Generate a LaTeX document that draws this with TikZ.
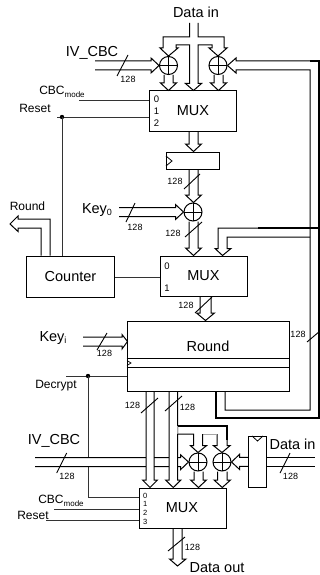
\documentclass[tikz,border=0pt]{standalone}
\usepackage{fontspec}
\setmainfont{Liberation Sans}
\usetikzlibrary{calc}
\newcommand\fs[1]{\fontsize{#1}{#1}\selectfont}
\newcommand\sub[2]{\raisebox{-2.5pt}{\fs{#1}#2}}
\tikzset{
 wire/.style={draw=black,line width=1pt,line join=miter},
 heavy/.style={draw=black,line width=2.2pt,line join=miter},
 sig/.style={draw=black!80,line width=.8pt},
 blockbox/.style={draw=black,line width=1pt,fill=white,inner sep=0pt,font=\fs{14.5}},
 xorgate/.style={circle,draw=black,line width=1pt,minimum size=18pt,inner sep=0pt,
   path picture={\draw[line width=.9pt] (path picture bounding box.north)--(path picture bounding box.south)
   (path picture bounding box.west)--(path picture bounding box.east);}},
 lab/.style={inner sep=0pt,font=\fs{14.5}},
 mid/.style={inner sep=0pt,font=\fs{12}},
 tiny/.style={inner sep=0pt,font=\fs{9}},
 slashline/.style={draw=black,line width=.9pt}
}
% vertical hollow bus from node #3 to node #4, rails at x=#1,#2
\newcommand\vbus[4]{%
 \draw[wire] (#1,0 |- #3.south) -- ($(#1,0 |- #4.north)+(0,-7.5)$) -- ++(-3.5,0)
   -- ({(#1+#2)/2},0 |- #4.north) -- ($(#2,0 |- #4.north)+(3.5,-7.5)$) -- ++(-3.5,0) -- (#2,0 |- #3.south);}
% horizontal hollow bus, pointing right, centred on start coordinate #1, to node #2
\newcommand\hbusR[2]{%
 \draw[wire] ($(#1)+(0,-4.5)$) -- ($(#1 -| #2.west)+(-8,-4.5)$) -- ++(0,-3) -- (#2.west)
   -- ($(#1 -| #2.west)+(-8,7.5)$) -- ++(0,-3) -- ($(#1)+(0,4.5)$);}
\newcommand\hbusL[2]{%
 \draw[wire] ($(#1)+(0,-4.5)$) -- ($(#1 -| #2.east)+(8,-4.5)$) -- ++(0,-3) -- (#2.east)
   -- ($(#1 -| #2.east)+(8,7.5)$) -- ++(0,-3) -- ($(#1)+(0,4.5)$);}
\begin{document}
\begin{tikzpicture}[x=1pt,y=-1pt]
\useasboundingbox (0,0) rectangle (320,575);
% blocks
\node[blockbox,minimum width=87.5pt,minimum height=40pt] (mux1) at (192.75,111) {};
\node[blockbox,minimum width=52.5pt,minimum height=17pt] (reg) at (192.75,160.5) {};
\node[blockbox,minimum width=87.5pt,minimum height=40pt] (mux2) at (203.75,276) {};
\node[blockbox,minimum width=88pt,minimum height=41pt] (counter) at (70.5,276.5) {Counter};
\node[blockbox,minimum width=162pt,minimum height=70pt] (round) at (208,356) {};
\node[blockbox,minimum width=87pt,minimum height=40pt] (mux3) at (182.5,508) {};
\node[blockbox,minimum width=17.8pt,minimum height=51.7pt] (regb) at (257.6,461.9) {};
\node[xorgate] (xor1) at (168.5,65.5) {};
\node[xorgate] (xor2) at (218,65.5) {};
\node[xorgate] (xor3) at (193,212) {};
\node[xorgate] (xor4) at (198,462) {};
\node[xorgate] (xor5) at (222,462) {};
% block labels
\node[lab] (tm1) at (193,111) {MUX};
\node[lab] (tm2) at (203.5,276) {MUX};
\node[lab] (tm3) at (182,508) {MUX};
\node[lab] (tr) at (208,346.5) {Round};
\foreach \n/\t/\x/\y in {a/0/156.5/99.5,b/1/156.5/111.5,c/2/156.5/123.5,d/0/167/266,e/1/167/288.5}
  \node[inner sep=0pt,font=\fs{9.5}] (d\n) at (\x,\y) {\t};
\foreach \n/\t/\y in {a/0/495.5,b/1/504,c/2/512.5,d/3/521.5}
  \node[inner sep=0pt,font=\fs{7.5}] (f\n) at (145.3,\y) {\t};
% round details
\draw[line width=.8pt] (round.west |- 0,358.3) coordinate (r1) -- (round.east |- 0,358.3);
\draw[line width=.8pt] (round.west |- 0,367.3) coordinate (r2) -- (round.east |- 0,367.3);
\draw[line width=.7pt] (127,360.5) -- (131,363) -- (127,365.5);
\draw[line width=.8pt] (reg.west |- 0,156) -- (172,161) -- (reg.west |- 0,166);
\draw[line width=.8pt] (252,436) -- (257.5,441) -- (263,436);
% top data in
\node[lab] (din) at (196,12) {Data in};
\coordinate (dina) at (189.5,23);
\coordinate (dinb) at (198,23);
\draw[wire] (dina) -- (189.5,37) -- (163,37) -- (163,48) -- (160,48) -- (xor1.north) -- (178,48) -- (176,48) -- (176,45) -- (189.5,45) -- (189.5,83.5) -- (185.5,83.5) -- (193.5,0 |- mux1.north) -- (201.5,83.5) -- (198,83.5) -- (198,45) -- (212,45) -- (212,48) -- (209,48) -- (xor2.north) -- (227,48) -- (224,48) -- (224,37) -- (198,37) -- (dinb);
\vbus{164}{173}{xor1}{mux1}
\vbus{214}{223}{xor2}{mux1}
\vbus{189}{198}{mux1}{reg}
\vbus{189}{198}{reg}{xor3}
\vbus{189}{198}{xor3}{mux2}
\vbus{200}{211}{mux2}{round}
% IV top
\coordinate (iva) at (95,65.5);
\hbusR{iva}{xor1}
\draw[slashline] (128,55) -- (117,76);
\node[lab] (t1) at (92,52.5) {IV\_CBC};
\node[tiny] (n1) at (128,79.5) {128};
% right loop
\draw[wire] (xor2.east) -- (236,58) -- (236,61) -- (311,61);
\draw[wire] (xor2.east) -- (236,73) -- (236,70) -- (310,70) -- (310,410) -- (225,410) -- (225,0 |- round.south);
\draw[heavy] (216,0 |- round.south) -- (216,418) -- (319,418) -- (319,61) -- (310,61);
\draw[wire,line width=1.5pt] (319,228) -- (258,228);
\draw[wire] (258,228) -- (218,228) -- (218,248.5) -- (215,248.5) -- (222.5,0 |- mux2.north) -- (231,248.5) -- (227,248.5) -- (227,237) -- (310,237);
\draw[slashline] (307,342) -- (320,331);
\node[tiny] (n2) at (298,334.5) {128};
% controls top
\node[mid] (cbc1) at (62,92) {CBC\sub{8}{mode}};
\draw[sig] (79,100) -- (mux1.west |- 0,100);
\node[mid] (rst1) at (35,108) {Reset};
\draw[sig] (57,117) -- (mux1.west |- 0,117);
\fill (62,117) circle (2.2pt);
\draw[sig] (62,117) -- (62,0 |- counter.north);
% register labels
\draw[slashline] (200,174) -- (184,189);
\node[tiny] (n3) at (175,181.5) {128};
% key0
\coordinate (k0) at (119,212);
\hbusR{k0}{xor3}
\draw[slashline] (135,203) -- (126,222);
\node[lab] (tk0) at (97,210) {Key\sub{9}{0}};
\node[tiny] (n4) at (135,227) {128};
\draw[slashline] (202,222) -- (185,237);
\node[tiny] (n5) at (173,233) {128};
% counter
\draw[sig] (counter.east |- 0,277) -- (mux2.west |- 0,277);
\node[mid] (tround) at (27.5,206) {Round};
\draw[wire] (50,0 |- counter.north) -- (50,219) -- (18,219) -- (18,216) -- (10,224) -- (18,231.5) -- (18,228) -- (41,228) -- (41,0 |- counter.north);
\draw[slashline] (212,297) -- (195,313);
\node[tiny] (n6) at (186,305.5) {128};
% keyi
\coordinate (ki) at (83,341.5);
\draw[wire] (83,337) -- (122,337) -- (122,334.5) -- (127.5,341.5) -- (122,349) -- (122,346) -- (83,346);
\draw[slashline] (107,333) -- (97,350);
\node[lab] (tki) at (53,338) {Key\sub{9}{i}};
\node[tiny] (n7) at (104.5,353.5) {128};
% decrypt
\draw[sig] (66,376) -- (round.west |- 0,376);
\fill (88,376) circle (2.2pt);
\node[mid] (tdec) at (56,386) {Decrypt};
\draw[sig] (88,376) -- (88,457.7);
\draw[sig] (88,466.7) -- (88,497.7) -- (mux3.west |- 0,497.7);
% bottom iv
\coordinate (ivb) at (35,462.2);
\hbusR{ivb}{xor4}
\fill[white] (146,456) rectangle (154,468);
\fill[white] (169,456) rectangle (177.5,468);
\vbus{146}{154}{round}{mux3}
\vbus{169}{177.5}{round}{mux3}
\draw[slashline] (158,398) -- (141,413);
\node[tiny] (n8) at (132.5,405) {128};
\draw[slashline] (182,396) -- (165,411);
\node[tiny] (n9) at (187.5,407.5) {128};
\draw[slashline] (66.7,453) -- (56.7,473);
\node[lab] (tiv2) at (54,441) {IV\_CBC};
\node[tiny] (n10) at (67,476.5) {128};
% feed to xors
\draw[heavy,line width=1.8pt] (177.5,425.7) -- (227,425.7) -- (227,440);
\draw[wire] (227,440) -- (227,445.7) -- (230,445.7) -- (xor5.north) -- (213.5,445.7) -- (217,445.7) -- (217,434);
\draw[line width=.7pt,black!35] (203,434) -- (217,434);
\draw[line width=.7pt,black!35] (177.5,425.7) -- (177.5,434);
\draw[wire] (177.5,434) -- (193.5,434) -- (193.5,445.7) -- (190.5,445.7) -- (xor4.north) -- (206.5,445.7) -- (202.7,445.7) -- (202.7,434);
\vbus{194}{203}{xor4}{mux3}
\vbus{217.5}{227}{xor5}{mux3}
% register right
\hbusL{regb.west}{xor5}
\draw[wire] (regb.east |- 0,457.7) -- (315,457.7);
\draw[wire] (regb.east |- 0,466.7) -- (315,466.7);
\draw[slashline] (290,453) -- (280,473);
\node[lab] (tdin2) at (292.5,444) {Data in};
\node[tiny] (n11) at (290.5,476.5) {128};
% bottom controls
\node[mid] (cbc3) at (61,501) {CBC\sub{8}{mode}};
\draw[sig] (54,509) -- (mux3.west |- 0,509);
\node[mid] (rst3) at (33,515) {Reset};
\draw[sig] (46,520) -- (mux3.west |- 0,520);
% output
\coordinate (dout) at (177.5,566);
\draw[wire] (173,0 |- mux3.south) -- (173,559) -- (169.5,559) -- (dout) -- (186,559) -- (182,559) -- (182,0 |- mux3.south);
\draw[slashline] (185,537) -- (168,551);
\node[tiny] (n12) at (192.5,547) {128};
\node[lab] (tdout) at (217,568) {Data out};
\end{tikzpicture}
\end{document}
